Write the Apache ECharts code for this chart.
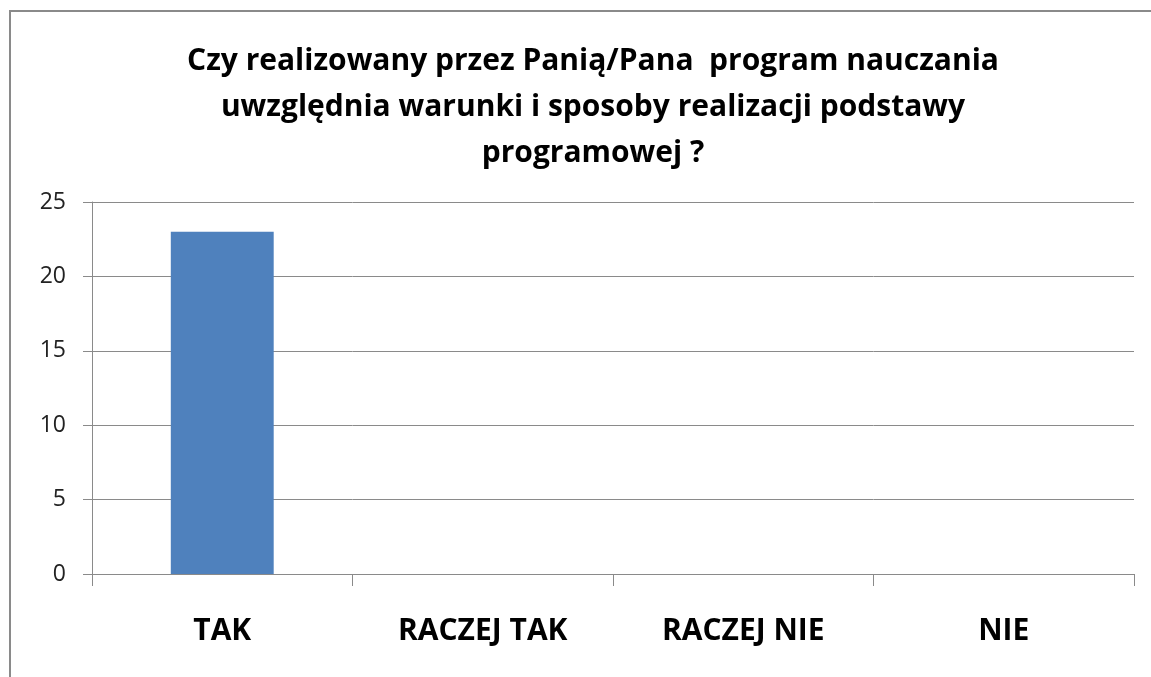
<!DOCTYPE html>
<html style="height: 100%">
<head>
    <meta charset="utf-8">
    <title>program nauczania</title>
    <style>
        html, body { margin: 0; padding: 0; background: #fff; }
        #frame { position: absolute; left: 9px; top: 10px; width: 1160px; height: 700px;
                 border-left: 2px solid #8a8a8a; border-top: 2px solid #8a8a8a; }
        #container { position: absolute; left: 0; top: 0; width: 1151px; height: 677px; }
    </style>
</head>
<body>
<div id="frame"></div>
<div id="container"></div>
<script src="https://cdn.jsdelivr.net/npm/echarts@6/dist/echarts.min.js"></script>
<script type="text/javascript">
    var titleText = 'Czy realizowany przez Panią/Pana  program nauczania\nuwzględnia warunki i sposoby realizacji podstawy\nprogramowej ?';
    var categories = ['TAK', 'RACZEJ TAK', 'RACZEJ NIE', 'NIE'];
    var values = [23, 0, 0, 0];
    var yTicks = [0, 5, 10, 15, 20, 25];

    var myChart = echarts.init(document.getElementById('container'));
    var option = {
        animation: false,
        title: {
            text: titleText,
            left: 588,
            textAlign: 'center',
            top: 33,
            textStyle: {
                fontFamily: 'Open Sans',
                fontWeight: 'bold',
                fontSize: 30,
                lineHeight: 46,
                color: '#000'
            }
        },
        grid: {
            left: 92,
            right: 17,
            top: 202,
            bottom: 103
        },
        xAxis: {
            type: 'category',
            data: categories,
            axisLine: { lineStyle: { color: '#8a8a8a', width: 1 } },
            axisTick: { show: true, length: 12, lineStyle: { color: '#8a8a8a' } },
            axisLabel: {
                margin: 42,
                fontFamily: 'Open Sans',
                fontWeight: 'bold',
                fontSize: 30,
                color: '#000'
            }
        },
        yAxis: {
            type: 'value',
            min: yTicks[0],
            max: yTicks[yTicks.length - 1],
            interval: 5,
            axisLine: { show: true, lineStyle: { color: '#8a8a8a' } },
            axisTick: { show: true, length: 9, lineStyle: { color: '#8a8a8a' } },
            axisLabel: {
                margin: 26,
                fontFamily: 'Open Sans',
                fontSize: 23,
                color: '#222'
            },
            splitLine: { lineStyle: { color: '#8a8a8a', width: 1 } }
        },
        series: [{
            type: 'bar',
            data: values,
            barWidth: '39.5%',
            itemStyle: { color: '#4f81bd' }
        }]
    };
    myChart.setOption(option);
</script>
</body>
</html>
